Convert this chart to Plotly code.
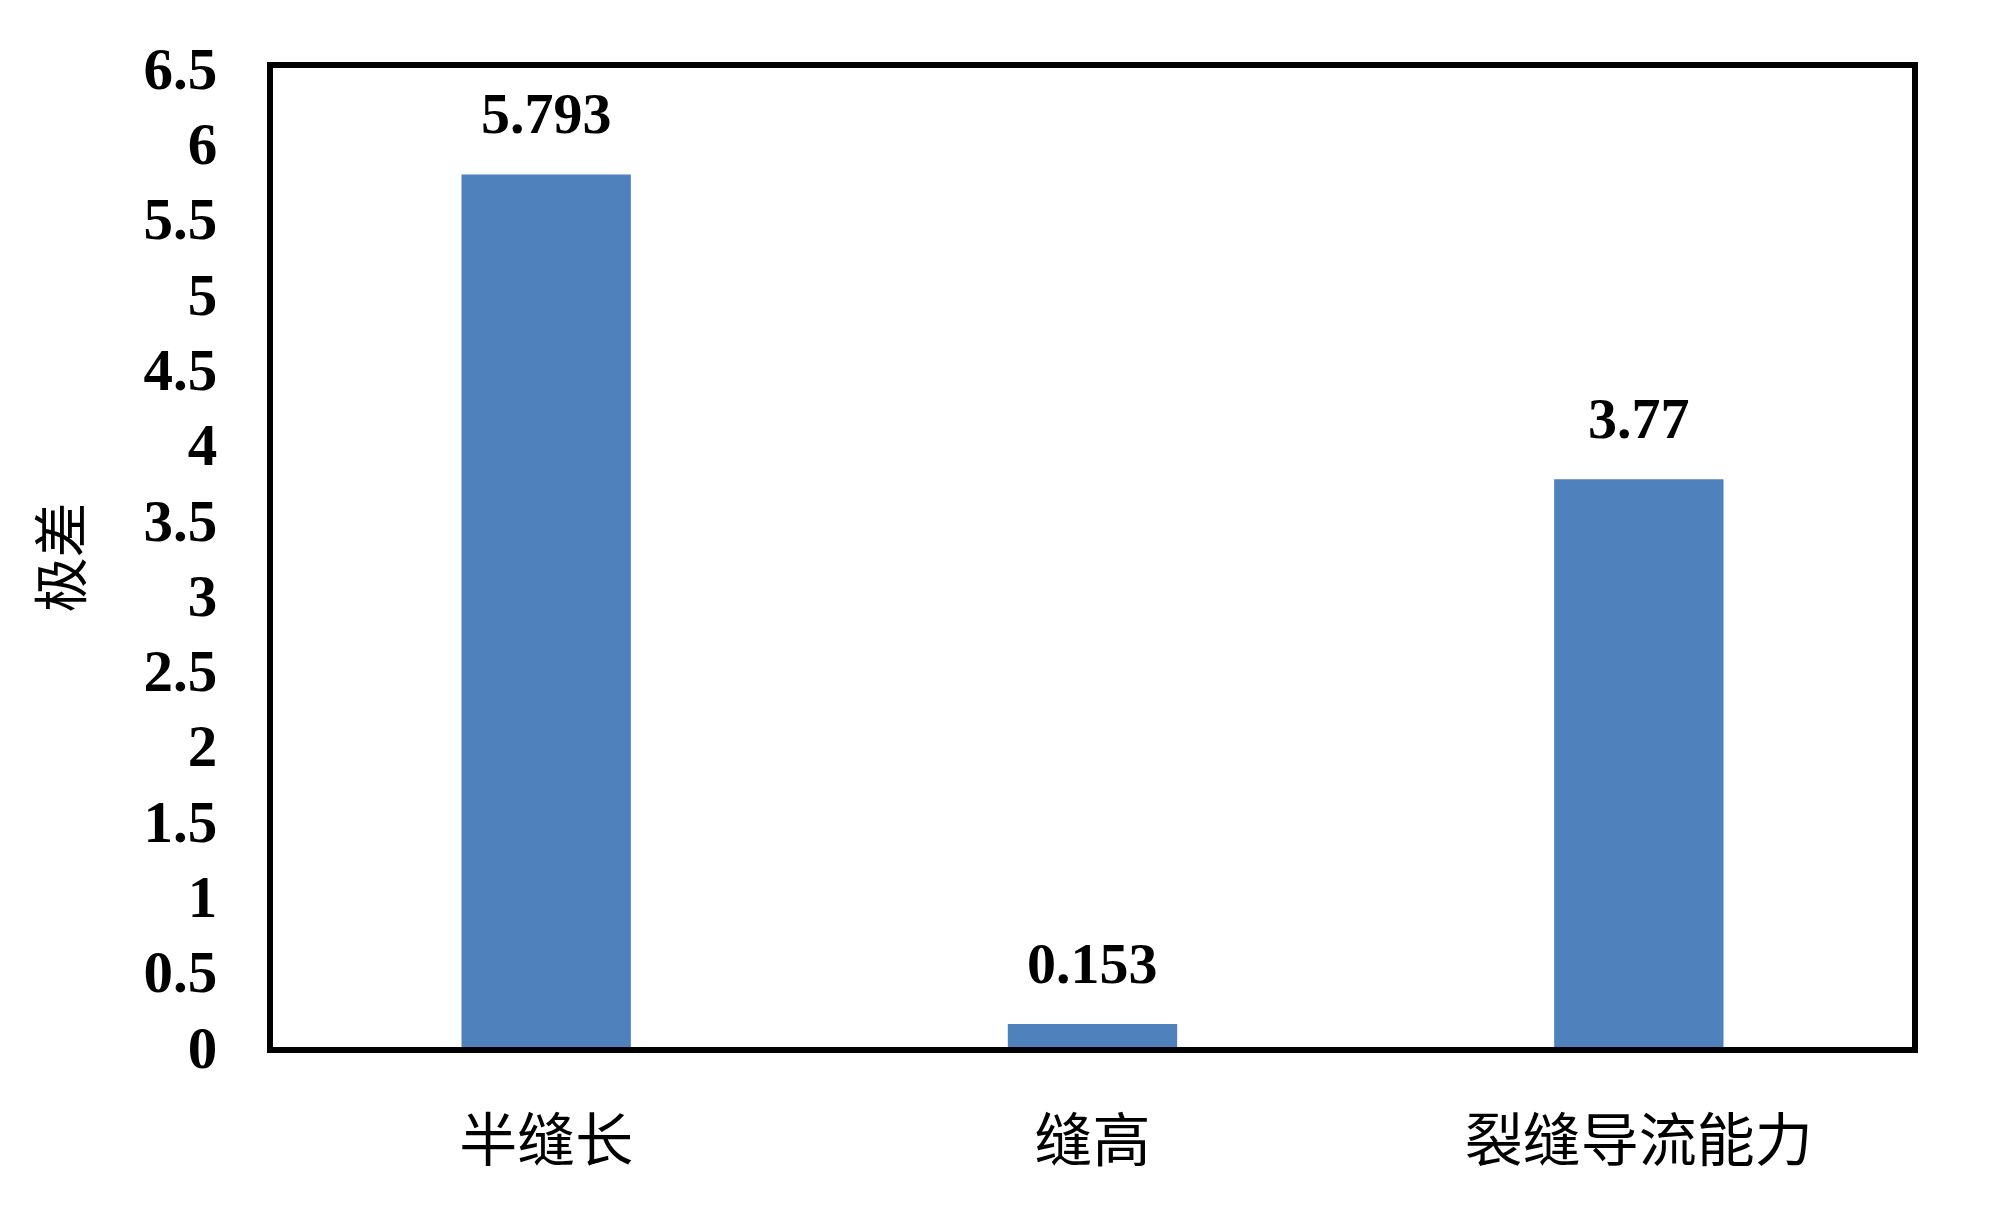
import plotly.graph_objects as go

categories = ["半缝长", "缝高", "裂缝导流能力"]
values = [5.793, 0.153, 3.77]
value_labels = ["5.793", "0.153", "3.77"]
y_tickvals = [0, 0.5, 1, 1.5, 2, 2.5, 3, 3.5, 4, 4.5, 5, 5.5, 6, 6.5]
y_ticktext = ["0", "0.5", "1", "1.5", "2", "2.5", "3", "3.5", "4", "4.5", "5", "5.5", "6", "6.5"]

bar_color = "#4F81BD"
serif_bold = "Liberation Serif"
cjk = "Noto Sans CJK SC"

fig = go.Figure()
fig.add_trace(go.Bar(
    x=categories, y=values,
    marker=dict(color=bar_color, line=dict(width=0)),
    width=0.31,
))

for c, v, t in zip(categories, values, value_labels):
    fig.add_annotation(
        x=c, y=v, text="<b>%s</b>" % t, showarrow=False,
        yanchor="bottom", yshift=26,
        font=dict(family=serif_bold, size=58, color="black"),
    )

fig.update_layout(
    width=2000, height=1205,
    margin=dict(l=265, r=96, t=60, b=166),
    paper_bgcolor="white", plot_bgcolor="white",
    showlegend=False,
    xaxis=dict(
        showline=True, linecolor="black", linewidth=6, mirror=True,
        showgrid=False, ticks="", ticklabelstandoff=38,
        tickfont=dict(family=cjk, size=58, color="black"),
    ),
    yaxis=dict(
        range=[0, 6.5], tickvals=y_tickvals, ticktext=["<b>%s</b>" % s for s in y_ticktext],
        showline=True, linecolor="black", linewidth=6, mirror=True,
        showgrid=False, ticks="", ticklabelstandoff=38, zeroline=False,
        tickfont=dict(family=serif_bold, size=59, color="black"),
        title=dict(text="极差", font=dict(family=cjk, size=55, color="black"), standoff=46),
    ),
)

fig.write_html("out.html")
